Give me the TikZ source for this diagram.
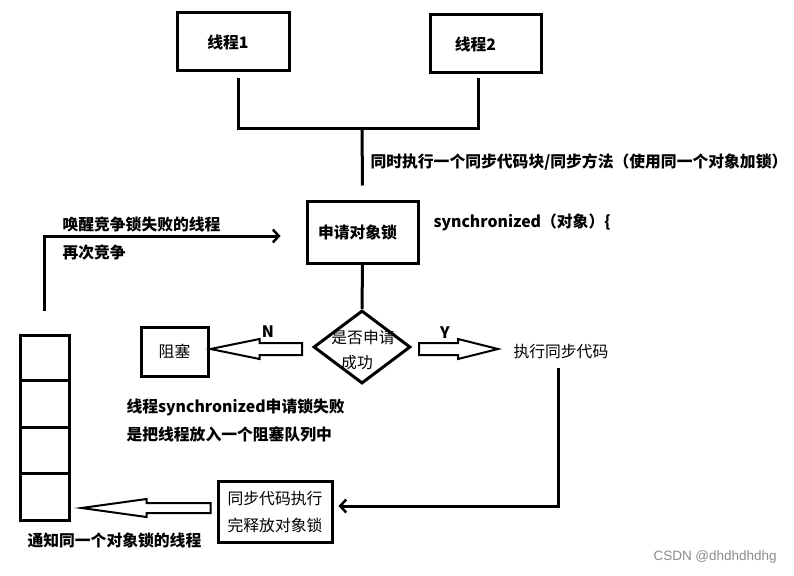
\documentclass[tikz,border=0pt]{standalone}
\usepackage{fontspec}
\setmainfont{Noto Sans CJK SC}
\newfontfamily\wmfont{Liberation Sans}
\usetikzlibrary{shapes.geometric,arrows.meta,calc}
\newcommand\fsz{\fontsize{15.8}{27}\selectfont}
\begin{document}
\begin{tikzpicture}[x=1pt,y=-1pt,line width=3pt,
  box/.style={draw,line width=3pt,inner sep=0pt,align=center},
  bt/.style={font=\fsz\bfseries,inner sep=0pt},
  rt/.style={font=\fsz,inner sep=0pt},
  hollow/.style={draw,line width=2pt,fill=white,line join=miter},
  conn/.style={line width=3pt},
  tip/.style={-{Straight Barb[length=6pt,width=13pt,line width=2.5pt]}}]
\useasboundingbox[fill=white] (0,0) rectangle (794,575);

% nodes
\node[box,minimum width=112pt,minimum height=58pt,bt] (t1) at (233,42) {\hspace*{-10pt}线程1};
\node[box,minimum width=111pt,minimum height=58pt,bt] (t2) at (485.5,44) {\hspace*{-20pt}线程2};
\node[box,minimum width=111pt,minimum height=62pt,bt] (lock) at (362.5,232) {\hspace*{-10pt}申请对象锁};
\node[draw,diamond,line width=3pt,minimum width=97pt,minimum height=73pt,inner sep=0pt,
      font=\fsz,align=center] (dia) at (362,347) {};
\node[rt,align=center] (diatxt) at (363,350) {是否申请\\[-2pt]\hspace*{-12pt}成功};
\node[box,minimum width=67pt,minimum height=49pt,rt] (blk) at (174.5,351.5) {阻塞};
\node[rt,anchor=west] (exec) at (512,352) {执行同步代码};
\node[box,minimum width=114pt,minimum height=61pt,rt,align=left] (rel) at (275,511.5) {同步代码执行\\完释放对象锁};

% queue
\node[draw,line width=3pt,minimum width=49pt,minimum height=45pt,inner sep=0pt] (q1) at (44.5,357.5) {};
\node[draw,line width=3pt,minimum width=49pt,minimum height=47pt,inner sep=0pt] (q2) at (44.5,403.5) {};
\node[draw,line width=3pt,minimum width=49pt,minimum height=46pt,inner sep=0pt] (q3) at (44.5,450) {};
\node[draw,line width=3pt,minimum width=49pt,minimum height=47pt,inner sep=0pt] (q4) at (44.5,496.5) {};

% texts
\node[bt,anchor=west] (same) at (369,162) {同时执行一个同步代码块/同步方法（使用同一个对象加锁）};
\node[bt,anchor=west] (sync) at (432,222) {synchronized（对象）\{};
\node[bt,anchor=west] (wake1) at (61,224) {唤醒竞争锁失败的线程};
\node[bt,anchor=west] (wake2) at (61,253) {再次竞争};
\node[bt] (nlab) at (268,332) {N};
\node[bt] (ylab) at (445,333) {Y};
\node[bt,anchor=west] (fail1) at (125,407) {线程synchronized申请锁失败};
\node[bt,anchor=west] (fail2) at (125,434) {是把线程放入一个阻塞队列中};
\node[bt,anchor=west] (notify) at (26,540) {通知同一个对象锁的线程};
\node[anchor=west,inner sep=0pt,text=black!45,font=\wmfont\fontsize{13.5}{15}\selectfont] (wm) at (652,557) {CSDN @dhdhdhdhg};

% connectors
\coordinate (join) at (362,128);
\draw[conn] ($(t1.south)+(5,6)$) |- (join) -| ($(t2.south)+(-7,4)$);
\draw[conn] (join) -- ($(lock.north)+(0,-14)$);
\draw[conn] (lock.south) -- (dia.north);
\draw[conn,tip] ($(exec.west)+(46.5,16)$) |- ($(rel.east)+(5,-5.5)$);
\draw[conn,tip] ($(q1.north)+(0,-23)$) |- ($(lock.west)+(-25,4)$);

% hollow arrows
\coordinate (nTail) at ($(dia.west)+(-10,2)$);
\coordinate (nTip) at ($(blk.east)+(1,-2.5)$);
\draw[hollow] (nTail) -- ++(0,-6) -- ($(nTip)+(49,-6)$) -- ($(nTip)+(49,-10)$) -- (nTip)
  -- ($(nTip)+(49,10)$) -- ($(nTip)+(49,6)$) -- ($(nTail)+(0,6)$) -- cycle;
\coordinate (yTail) at ($(dia.east)+(7,2)$);
\coordinate (yTip) at ($(exec.west)+(-14,-3)$);
\draw[hollow] (yTail) -- ++(0,-6) -- ($(yTip)+(-40,-6)$) -- ($(yTip)+(-40,-10)$) -- (yTip)
  -- ($(yTip)+(-40,10)$) -- ($(yTip)+(-40,6)$) -- ($(yTail)+(0,6)$) -- cycle;
\coordinate (bTail) at ($(rel.west)+(-6,-3.5)$);
\coordinate (bTip) at ($(q4.east)+(11,11.5)$);
\draw[hollow] (bTail) -- ++(0,-5) -- ($(bTip)+(65,-5)$) -- ($(bTip)+(65,-9)$) -- (bTip)
  -- ($(bTip)+(65,9)$) -- ($(bTip)+(65,5)$) -- ($(bTail)+(0,5)$) -- cycle;
\end{tikzpicture}
\end{document}
